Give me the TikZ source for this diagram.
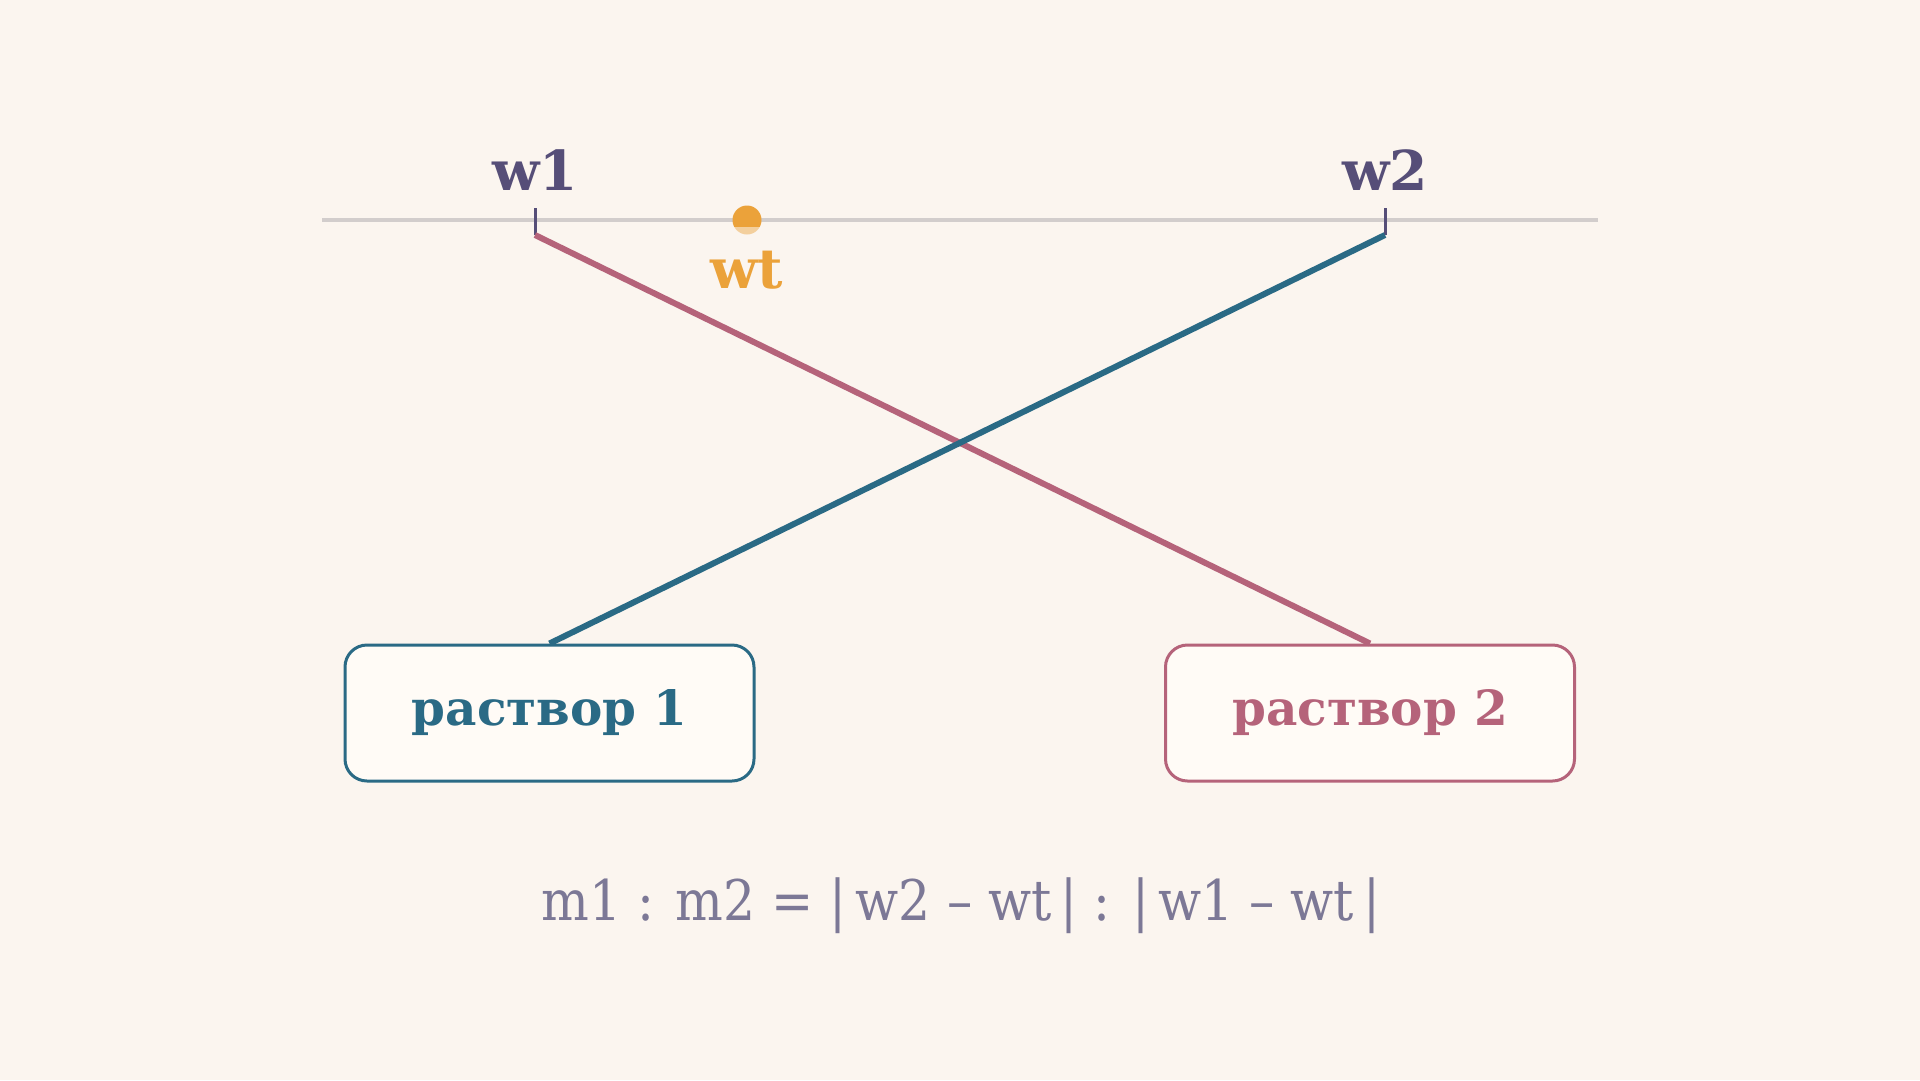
\documentclass[tikz,border=0pt]{standalone}
\usepackage{fontspec}
\setmainfont{DejaVu Serif}
\newfontfamily\formfont{DejaVu Serif Condensed}
\usepackage{tikz}
\usetikzlibrary{positioning}

\definecolor{bgcream}{HTML}{FBF5EF}
\definecolor{boxfill}{HTML}{FFFBF6}
\definecolor{axisgray}{HTML}{D2CDCC}
\definecolor{inkpurple}{HTML}{564E78}
\definecolor{wtorange}{HTML}{EBA23A}
\definecolor{solteal}{HTML}{2A6A85}
\definecolor{solpink}{HTML}{B5637A}
\definecolor{formgray}{HTML}{7C7896}

\begin{document}
\begin{tikzpicture}[x=1pt,y=-1pt,
    mixbox/.style={draw=#1, line width=3pt, rounded corners=22pt, fill=boxfill,
      minimum width=409pt, minimum height=136pt, text=#1,
      font=\fontsize{48.5}{56}\selectfont\bfseries},
    wlabel/.style={text=inkpurple, font=\fontsize{55}{62}\selectfont\bfseries, inner sep=0pt},
    tickmark/.style={draw=inkpurple, line width=3pt},
    crossline/.style={draw=#1, line width=6pt}]
  % background and frame
  \fill[bgcream] (0,0) rectangle (1920,1080);
  \useasboundingbox (0,0) rectangle (1920,1080);
  % concentration axis
  \coordinate (axL) at (322,220);
  \coordinate (axR) at (1598,220);
  \draw[axisgray, line width=3.5pt] (axL) -- (axR);
  % ticks
  \coordinate (w1top) at (535,208);
  \coordinate (w1bot) at (535,235);
  \coordinate (w2top) at (1385,208);
  \coordinate (w2bot) at (1385,235);
  \draw[tickmark] (w1top) -- (w1bot);
  \draw[tickmark] (w2top) -- (w2bot);
  \node[wlabel, anchor=base] (w1lab) at (535,190) {w1};
  \node[wlabel, anchor=base] (w2lab) at (1385,190) {w2};
  % target point
  \node[circle, fill=wtorange, minimum size=29pt, inner sep=0pt] (wtdot) at (747,220) {};
  \fill[bgcream, opacity=0.55] (730,227) rectangle (764,236);
  \node[wlabel, text=wtorange, anchor=base] (wtlab) at (747,288) {wt};
  % solutions
  \node[mixbox=solteal] (sol1) at (549.5,713) {раствор 1};
  \node[mixbox=solpink] (sol2) at (1370,713) {раствор 2};
  % cross lines
  \draw[crossline=solpink] (w1bot) -- (sol2.north);
  \draw[crossline=solteal] (w2bot) -- (sol1.north);
  % rule
  \node[text=formgray, font=\formfont\fontsize{56}{64}\selectfont] (rule) at (961,906)
    {m1 : m2 = |\,w2 – wt\,| : |\,w1 – wt\,|};
\end{tikzpicture}
\end{document}
